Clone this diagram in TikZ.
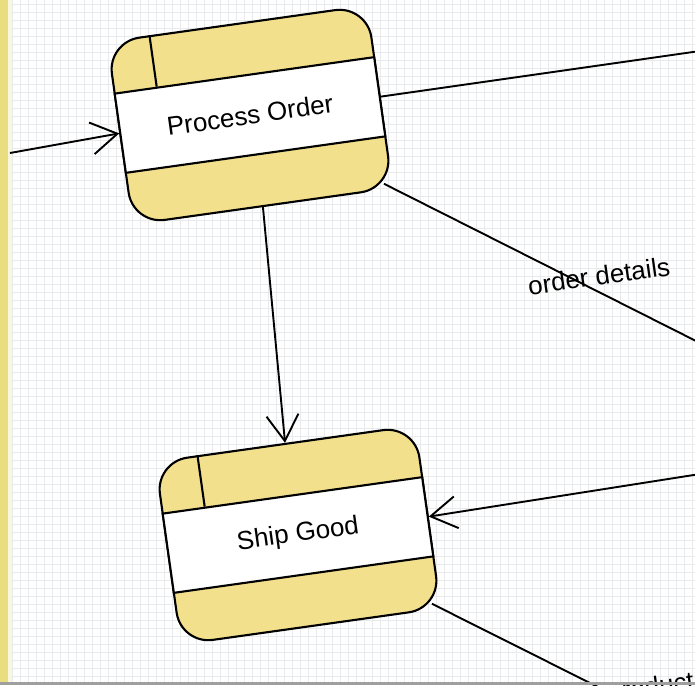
\documentclass[tikz,border=0pt]{standalone}
\usepackage{fontspec}
\setmainfont{Liberation Sans}
\usetikzlibrary{calc}
\usetikzlibrary{arrows.meta}
\usetikzlibrary{positioning}

\definecolor{procyellow}{RGB}{243,224,140}
\definecolor{stripyellow}{RGB}{232,222,128}
\definecolor{gridgray}{RGB}{232,234,236}

\begin{document}
\begin{tikzpicture}[x=1pt,y=-1pt,
    procbox/.style={draw, line width=2.1pt, rounded corners=32pt, fill=procyellow,
      minimum width=\bw pt, minimum height=\bh pt, rotate=8, inner sep=0pt},
    procband/.style={draw, line width=2.1pt, fill=white, minimum width=\bw pt,
      minimum height=80pt, rotate=8, inner sep=0pt, font=\fontsize{26}{30}\selectfont},
    flow/.style={line width=1.9pt},
    flowin/.style={line width=1.9pt, -{Straight Barb[length=26pt,width=32pt,line width=1.9pt]}},
    flowlbl/.style={font=\fontsize{26}{30}\selectfont, rotate=8, inner sep=0pt}
    ]
\edef\bw{262}
\edef\bh{184}
\edef\pw{695}
\edef\ph{685}

\useasboundingbox (0,0) rectangle (\pw,\ph);
\clip (0,0) rectangle (\pw,\ph);

% paper and grid
\fill[white] (0,0) rectangle (\pw,\ph);
\foreach \gx in {12,20,...,695}
  \draw[gridgray, line width=0.5pt] (\gx,0) -- (\gx,\ph);
\foreach \gy in {4,12,...,685}
  \draw[gridgray, line width=0.5pt] (8,\gy) -- (\pw,\gy);
\fill[stripyellow] (0,0) rectangle (8,\ph);
\fill[stripyellow!25] (8,0) rectangle (12,\ph);

% processes
\node[procbox] (po) at (250,115) {};
\node[procband] (poband) at (po.center) {Process Order};
\draw[line width=2.1pt] ($(po.north west)!0.165!(po.north east)$) -- ($(poband.north west)!0.165!(poband.north east)$);

\node[procbox] (sg) at (298,535) {};
\node[procband] (sgband) at (sg.center) {Ship Good};
\draw[line width=2.1pt] ($(sg.north west)!0.165!(sg.north east)$) -- ($(sgband.north west)!0.165!(sgband.north east)$);

% free ends
\coordinate (srcin) at (10,153);
\coordinate (outtop) at (700,51);
\coordinate (outdet) at (700,343);
\coordinate (insg) at (700,474);
\coordinate (outprod) at (600,688);

% flows
\draw[flowin] (srcin) -- (po.west);
\draw[flow] (po.east) -- (outtop);
\draw[flow] ($(po.south east)!11pt!(po.center)$) -- (outdet);
\draw[flowin] (po.south) -- (sg.north);
\draw[flowin] (insg) -- (sg.east);
\draw[flow] ($(sg.south east)!11pt!(sg.center)$) -- (outprod);

\node[flowlbl] (detlbl) at (599,276) {order details};
\node[flowlbl] (prodlbl) at (651,689) {product};

%\draw[flow] (sg.south) -- (0,685);
\fill[gray!75] (0,682) rectangle (\pw,\ph);
\end{tikzpicture}
\end{document}
